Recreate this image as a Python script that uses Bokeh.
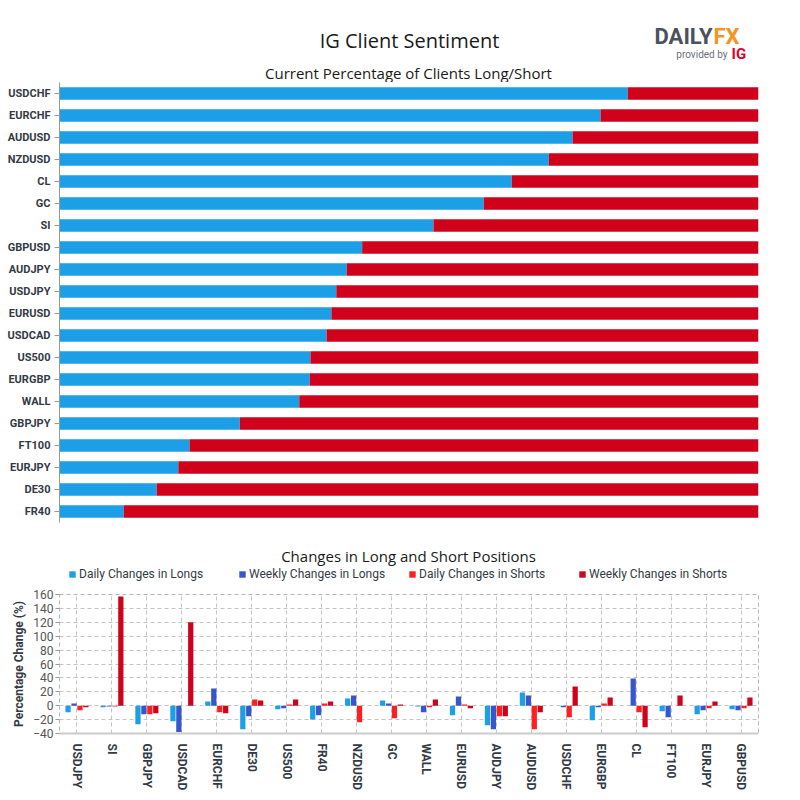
from bokeh.plotting import figure
from bokeh.models import (FactorRange, Range1d, ColumnDataSource, Legend, LegendItem, FixedTicker)
from bokeh.transform import dodge
from bokeh.layouts import column
from bokeh.embed import file_html
from bokeh.resources import INLINE
from bokeh.core.properties import value

# ---------------- data ----------------
sent_symbols = ["USDCHF", "EURCHF", "AUDUSD", "NZDUSD", "CL", "GC", "SI", "GBPUSD", "AUDJPY", "USDJPY",
                "EURUSD", "USDCAD", "US500", "EURGBP", "WALL", "GBPJPY", "FT100", "EURJPY", "DE30", "FR40"]
pct_long = [81.3, 77.4, 73.4, 70.0, 64.7, 60.7, 53.5, 43.3, 41.1, 39.6,
            38.9, 38.2, 35.9, 35.8, 34.3, 25.8, 18.6, 17.0, 13.9, 9.2]
pct_short = [18.7, 22.6, 26.6, 30.0, 35.3, 39.3, 46.5, 56.7, 58.9, 60.4,
             61.1, 61.8, 64.1, 64.2, 65.7, 74.2, 81.4, 83.0, 86.1, 90.8]

chg_symbols = ["USDJPY", "SI", "GBPJPY", "USDCAD", "EURCHF", "DE30", "US500", "FR40", "NZDUSD", "GC",
               "WALL", "EURUSD", "AUDJPY", "AUDUSD", "USDCHF", "EURGBP", "CL", "FT100", "EURJPY", "GBPUSD"]
daily_longs = [-9.5, -2.4, -26.7, -22.4, 6.2, -33.8, -5.2, -20.0, 10.5, 7.6,
               -1.0, -13.8, -28.0, 19.0, 0.0, -21.0, 0.0, -8.1, -12.4, -5.2]
weekly_longs = [3.3, -1.0, -12.4, -38.0, 24.8, -15.2, -3.8, -13.8, 14.8, 3.3,
                -9.5, 13.3, -33.8, 14.8, -2.4, -2.4, 39.0, -16.7, -6.7, -6.7]
daily_shorts = [-6.7, -1.0, -12.4, 0.0, -9.5, 9.0, 1.9, 3.3, -23.8, -18.0,
                -2.4, 1.9, -15.2, -33.8, -16.7, 3.3, -9.5, 0.0, -3.8, -3.8]
weekly_shorts = [-2.4, 157.0, -11.0, 120.0, -11.0, 7.6, 9.0, 6.2, 0.0, 1.9,
                 9.0, -3.8, -15.2, -9.5, 27.6, 11.9, -31.0, 14.8, 6.2, 11.9]
y_ticks = [-40, -20, 0, 20, 40, 60, 80, 100, 120, 140, 160]

series_names = ["Daily Changes in Longs", "Weekly Changes in Longs",
                "Daily Changes in Shorts", "Weekly Changes in Shorts"]

BLUE = "#1c9fe6"
DBLUE = "#3556cc"
RED = "#ff1f1f"
DRED = "#d0021b"
FONT = "Roboto"
LB, RB, FW = 59, 42, 699
colors = [BLUE, DBLUE, RED, DRED]


def text_strip(height):
    f = figure(frame_width=FW, frame_height=height, x_range=Range1d(LB, LB + FW),
               y_range=Range1d(height, 0), x_axis_type=None, y_axis_type=None,
               toolbar_location=None, output_backend="svg",
               min_border_left=LB, min_border_right=RB, min_border_top=0, min_border_bottom=0)
    f.grid.visible = False
    f.outline_line_color = None
    return f


# ---------------- header ----------------
hdr = text_strip(82)
hdr.text(x=[409], y=[40], text=["IG Client Sentiment"], text_align="center", text_baseline="middle",
         text_font=value("Open Sans"), text_font_size="20px", text_color="#1a1a1a")
hdr.text(x=[408], y=[72], text=["Current Percentage of Clients Long/Short"], text_align="center",
         text_baseline="middle", text_font=value("Open Sans"), text_font_size="15px", text_color="#1a1a1a")
hdr.text(x=[712], y=[36], text=["DAILY"], text_align="right", text_baseline="middle",
         text_font=value(FONT), text_font_size="22px", text_font_style="bold", text_color="#4a5260")
hdr.text(x=[713], y=[36], text=["FX"], text_align="left", text_baseline="middle",
         text_font=value(FONT), text_font_size="22px", text_font_style="bold", text_color="#f7931e")
hdr.text(x=[727], y=[54], text=["provided by"], text_align="right", text_baseline="middle",
         text_font=value(FONT), text_font_size="10px", text_color="#6b6f76")
hdr.text(x=[731], y=[53], text=["IG"], text_align="left", text_baseline="middle",
         text_font=value(FONT), text_font_size="15px", text_font_style="bold", text_color="#e4002b")

# ---------------- top chart ----------------
src_top = ColumnDataSource(dict(sym=sent_symbols, long=pct_long, short=pct_short))
top = figure(frame_width=FW, frame_height=440, y_range=FactorRange(factors=sent_symbols[::-1]),
             x_range=Range1d(0, 100), x_axis_type=None, toolbar_location=None, output_backend="svg",
             min_border_left=LB, min_border_right=RB, min_border_top=0, min_border_bottom=8)
top.hbar_stack(["long", "short"], y="sym", height=0.56, color=[BLUE, DRED], line_color=None,
               source=src_top)
top.grid.visible = False
top.outline_line_color = None
ya = top.yaxis[0]
ya.axis_line_color = "#999999"
ya.major_tick_line_color = "#999999"
ya.major_tick_out = 5
ya.major_tick_in = 0
ya.major_label_text_font = FONT
ya.major_label_text_font_style = "bold"
ya.major_label_text_font_size = "11px"
ya.major_label_text_color = "#333a45"
ya.major_label_standoff = 4

# ---------------- bottom title + legend strip ----------------
mid = text_strip(52)
mid.text(x=[408], y=[25], text=["Changes in Long and Short Positions"], text_align="center",
         text_baseline="middle", text_font=value("Open Sans"), text_font_size="15px", text_color="#1a1a1a")
swatches = []
for col in colors:
    # hidden helper renderers: they draw nothing, they only supply the legend swatch colours
    r = mid.vbar(x=[0], top=[0], bottom=[0], width=1, color=col, line_color=None)
    r.visible = False
    swatches.append(r)
legend = Legend(items=[LegendItem(label=n, renderers=[r]) for n, r in zip(series_names, swatches)],
                orientation="horizontal", location=(9, 1))
legend.glyph_width = 8
legend.glyph_height = 8
legend.label_standoff = 3
legend.label_width = 159
legend.label_height = 12
legend.spacing = 0
legend.padding = 0
legend.margin = 0
legend.border_line_color = None
legend.background_fill_alpha = 0
legend.inactive_fill_alpha = 0
legend.label_text_font = FONT
legend.label_text_font_size = "12px"
legend.label_text_color = "#333a45"
mid.add_layout(legend, "center")

# ---------------- bottom chart ----------------
src_bot = ColumnDataSource(dict(sym=chg_symbols, dl=daily_longs, wl=weekly_longs,
                                ds=daily_shorts, ws=weekly_shorts))
bot = figure(frame_width=FW, frame_height=139, x_range=FactorRange(factors=chg_symbols),
             y_range=Range1d(-40, 160), toolbar_location=None, output_backend="svg",
             min_border_left=LB, min_border_right=RB, min_border_top=12, min_border_bottom=67)
cols = ["dl", "wl", "ds", "ws"]
offsets = [-0.255, -0.085, 0.085, 0.255]
for c, col, off in zip(cols, colors, offsets):
    bot.vbar(x=dodge("sym", off, range=bot.x_range), top=c, bottom=0, width=0.15,
             color=col, line_color=None, source=src_bot)

bot.outline_line_color = "#b5b5b5"
bot.outline_line_dash = "4 3"
for g in (bot.xgrid[0], bot.ygrid[0]):
    g.grid_line_color = "#c4c4c4"
    g.grid_line_dash = "4 3"

yb = bot.yaxis[0]
yb.ticker = FixedTicker(ticks=y_ticks)
yb.axis_line_color = None
yb.major_tick_line_color = "#999999"
yb.major_tick_out = 4
yb.major_tick_in = 0
yb.minor_tick_line_color = None
yb.major_label_text_font = FONT
yb.major_label_text_font_size = "12px"
yb.major_label_text_color = "#555555"
yb.major_label_standoff = 2
yb.axis_label = "Percentage Change (%)"
yb.axis_label_text_font = FONT
yb.axis_label_text_font_style = "bold"
yb.axis_label_text_font_size = "12px"
yb.axis_label_text_color = "#333a45"
yb.axis_label_standoff = 4

xb = bot.xaxis[0]
xb.axis_line_color = "#cccccc"
xb.axis_line_width = 2
xb.major_tick_line_color = None
xb.major_label_orientation = "vertical"
xb.major_label_text_font = FONT
xb.major_label_text_font_style = "bold"
xb.major_label_text_font_size = "12px"
xb.major_label_text_color = "#333a45"
xb.major_label_standoff = 4

layout = column(hdr, top, mid, bot, spacing=0)
open("out.html", "w").write(file_html(layout, INLINE))
